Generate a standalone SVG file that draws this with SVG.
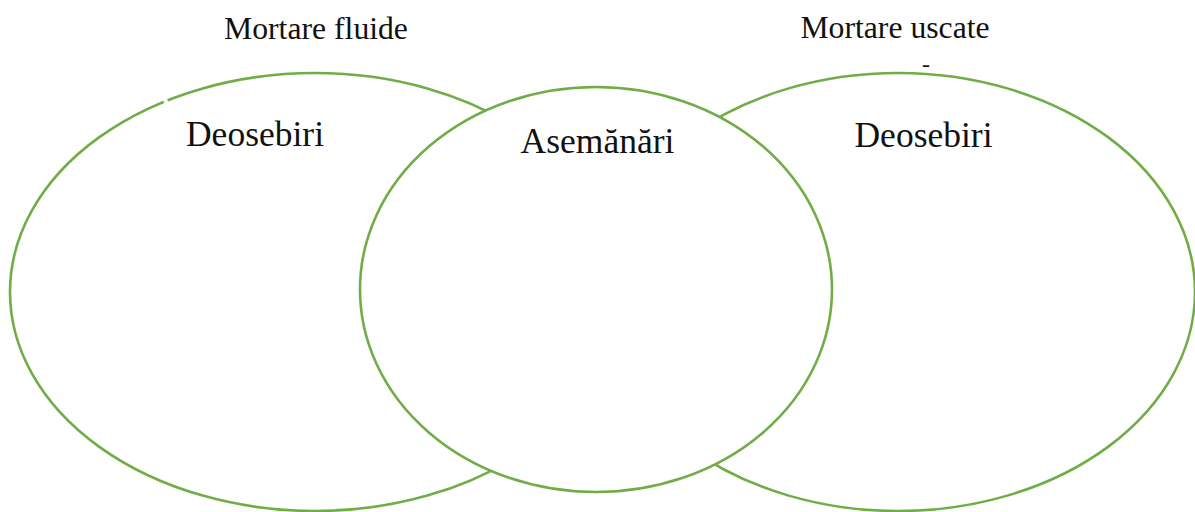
<svg xmlns="http://www.w3.org/2000/svg" width="1195" height="512" viewBox="0 0 1195 512">
  <style>
    .ring { fill: #ffffff; stroke: #70AD47; stroke-width: 2.6; }
    .lbl { font-family: "Liberation Serif", "Times New Roman", serif; fill: #111111; }
    .title { font-size: 31.7px; }
    .sub { font-size: 35.5px; }
  </style>
  <rect x="0" y="0" width="1195" height="512" fill="#ffffff"/>
  <g id="set-left">
    <ellipse class="ring" cx="315" cy="292" rx="305" ry="219"/>
    <rect x="163" y="96" width="4" height="7" fill="#ffffff" transform="rotate(-25 165 99.5)"/>
    <text class="lbl sub" x="255" y="146" text-anchor="middle">Deosebiri</text>
  </g>
  <g id="set-right">
    <ellipse class="ring" cx="898" cy="292" rx="297" ry="219"/>
    <text class="lbl sub" x="923.5" y="147" text-anchor="middle">Deosebiri</text>
  </g>
  <g id="set-middle">
    <ellipse class="ring" cx="596" cy="289.5" rx="236" ry="202.5"/>
    <text class="lbl sub" x="597.5" y="153" text-anchor="middle">Asemănări</text>
  </g>
  <g id="connectors"></g>
  <g id="titles">
    <text class="lbl title" x="316" y="39" text-anchor="middle">Mortare fluide</text>
    <text class="lbl title" x="895" y="38" text-anchor="middle">Mortare uscate</text>
    <text class="lbl" x="926" y="72" text-anchor="middle" font-size="24px">-</text>
  </g>
</svg>
